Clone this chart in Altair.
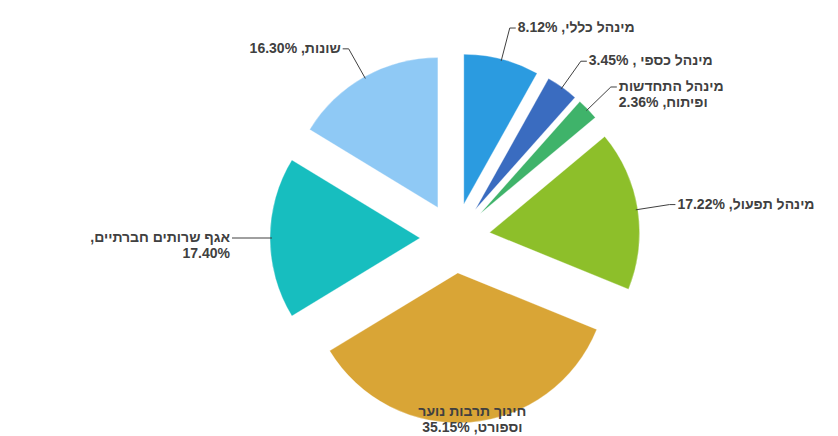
import altair as alt
import pandas as pd

RLM = "\u200f"
names = ["מינהל כללי", "מינהל כספי", "מינהל התחדשות ופיתוח", "מינהל תפעול",
         "חינוך תרבות נוער וספורט", "אגף שרותים חברתיים", "שונות"]
values = [8.12, 3.45, 2.36, 17.22, 35.15, 17.40, 16.30]
labels = ["מינהל כללי, 8.12%", "מינהל  כספי , 3.45%", "מינהל  התחדשות\nופיתוח, 2.36%",
          "מינהל תפעול, 17.22%", "חינוך תרבות נוער\nוספורט, 35.15%",
          "אגף שרותים חברתיים," + RLM + "\n17.40%", "שונות, 16.30%"]
colors = ["#2B9BE0", "#3A6CC0", "#3FB36A", "#8DBF2A", "#D9A536", "#17BEBF", "#8FC9F5"]

df = pd.DataFrame({"name": names, "value": values, "label": labels,
                   "order": list(range(len(names)))})

CX, CY, R, E, G = 455, 238, 150, 35, 32
W, H = 838, 436
TICK = 6

base = alt.Chart(df).transform_joinaggregate(
    total="sum(value)"
).transform_window(
    cum="sum(value)", sort=[alt.SortField("order")], frame=[None, 0]
).transform_calculate(
    t0="2*PI*(datum.cum - datum.value)/datum.total",
    t1="2*PI*datum.cum/datum.total",
).transform_calculate(
    mid="(datum.t0 + datum.t1)/2"
).transform_calculate(
    s="sin(datum.mid)", c="cos(datum.mid)"
).transform_calculate(
    cx=f"{CX} + {E}*datum.s",
    cy=f"{CY} - {E}*datum.c",
    ex=f"{CX} + {R + E - 2}*datum.s",
    ey=f"{CY} - {R + E - 2}*datum.c",
    lx=f"{CX} + {R + E + G}*datum.s",
    ly_raw=f"{CY} - {R + E + G}*datum.c",
).transform_calculate(
    ly="min(datum.ly_raw, 412)",
    bottom="datum.ly_raw > 412",
    tx=f"datum.lx + (datum.s > 0 ? {TICK} : -{TICK})",
)

arcs = base.mark_arc(radius=R, stroke="#ffffff", strokeWidth=0.3).encode(
    theta=alt.Theta("t0:Q", scale=None),
    theta2="t1:Q",
    x=alt.X("cx:Q", scale=None),
    y=alt.Y("cy:Q", scale=None),
    color=alt.Color("name:N", scale=alt.Scale(domain=names, range=colors), legend=None),
)

leaders = base.transform_filter("!datum.bottom").mark_rule(
    color="#404040", strokeWidth=1
).encode(
    x=alt.X("ex:Q", scale=None), y=alt.Y("ey:Q", scale=None),
    x2="lx:Q", y2="ly:Q",
)
ticks = base.transform_filter("!datum.bottom").mark_rule(
    color="#404040", strokeWidth=1
).encode(
    x=alt.X("lx:Q", scale=None), y=alt.Y("ly:Q", scale=None),
    x2="tx:Q",
)

font = "Liberation Sans, DejaVu Sans, Arial"
FS = 14
right_lbl = base.transform_filter("!datum.bottom && datum.s > 0").mark_text(
    align="left", baseline="middle", dx=2, font=font, fontSize=FS,
    fontWeight="bold", color="#404040", lineBreak="\n"
).encode(x=alt.X("tx:Q", scale=None), y=alt.Y("ly:Q", scale=None), text="label:N")

left_lbl = base.transform_filter("!datum.bottom && datum.s <= 0").mark_text(
    align="right", baseline="middle", dx=-2, font=font, fontSize=FS,
    fontWeight="bold", color="#404040", lineBreak="\n"
).encode(x=alt.X("tx:Q", scale=None), y=alt.Y("ly:Q", scale=None), text="label:N")

bottom_lbl = base.transform_filter("datum.bottom").mark_text(
    align="center", baseline="middle", font=font, fontSize=FS,
    fontWeight="bold", color="#404040", lineBreak="\n"
).encode(x=alt.X("lx:Q", scale=None), y=alt.Y("ly:Q", scale=None), text="label:N")

chart = alt.layer(arcs, leaders, ticks, right_lbl, left_lbl, bottom_lbl).properties(
    width=W, height=H, autosize=alt.AutoSizeParams(type="none"), padding=0
).configure_view(stroke=None)

chart.save("out.html", embed_options={"renderer": "svg", "actions": False})
